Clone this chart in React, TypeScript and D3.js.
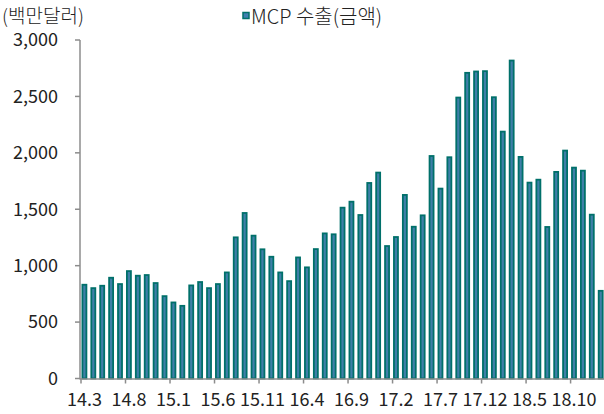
import React from "react";
import * as d3 from "d3";

const categories: string[] = (() => {
  const out: string[] = [];
  let y = 14, m = 3;
  for (let i = 0; i < 59; i++) {
    out.push(`${y}.${m}`);
    m++;
    if (m > 12) { m = 1; y++; }
  }
  return out;
})();

const exportValues: number[] = [
  831, 801, 822, 893, 837, 952, 911, 917, 846, 730,
  674, 644, 825, 855, 801, 837, 940, 1251, 1467, 1266,
  1145, 1079, 940, 863, 1073, 985, 1147, 1286, 1278, 1514,
  1567, 1449, 1733, 1825, 1174, 1254, 1627, 1345, 1446, 1972,
  1683, 1961, 2490, 2709, 2721, 2724, 2493, 2188, 2818, 1964,
  1736, 1762, 1343, 1831, 2020, 1869, 1842, 1452, 777,
];

const yTicks: number[] = [0, 500, 1000, 1500, 2000, 2500, 3000];
const xTickLabels: string[] = ["14.3", "14.8", "15.1", "15.6", "15.11", "16.4", "16.9", "17.2", "17.7", "17.12", "18.5", "18.10"];

const W = 604, H = 414;
const left = 80, top = 40, bottom = 378.5;
const catW = 8.9;
const right = left + catW * categories.length;
const font = "'Noto Sans CJK KR', 'Noto Sans', sans-serif";

export default function App() {
  const x = d3.scaleBand<string>().domain(categories).range([left, right]).paddingInner(0.55).paddingOuter(0.27);
  const y = d3.scaleLinear().domain([0, 3000]).range([bottom, top]);
  const step = x.step();
  const fmt = d3.format(",");
  const axisColor = "#8c8c8c";
  return (
    <svg width={W} height={H} style={{ position: "absolute", left: 0, top: 0, background: "#fff" }}>
      <text x={2} y={22.5} fontFamily={font} fontSize={19} fontWeight={300} fill="#222">(백만달러)</text>
      <rect x={243} y={12.5} width={6} height={6} fill="#3f7fb0" stroke="#00706a" strokeWidth={1.5} />
      <text x={251} y={23.5} fontFamily={font} fontSize={20} fontWeight={300} fill="#222">MCP 수출(금액)</text>
      {exportValues.map((v, i) => {
        const c = categories[i];
        const bx = x(c)!;
        const bw = x.bandwidth();
        return (
          <rect key={c} x={bx} y={y(v)} width={bw} height={bottom - y(v)}
            fill="#3f7fa8" stroke="#00706a" strokeWidth={1.8} />
        );
      })}
      <line x1={left} x2={left} y1={top} y2={bottom + 1} stroke={axisColor} strokeWidth={1.5} />
      <line x1={left} x2={W} y1={bottom + 0.5} y2={bottom + 0.5} stroke={axisColor} strokeWidth={1.5} />
      {yTicks.map((t) => (
        <g key={t}>
          <line x1={left - 5} x2={left} y1={y(t)} y2={y(t)} stroke={axisColor} strokeWidth={1.5} />
          <text x={58} y={y(t)} dy="0.35em" textAnchor="end" fontFamily={font} fontSize={18} fill="#222">{fmt(t)}</text>
        </g>
      ))}
      {xTickLabels.map((lab) => {
        const i = categories.indexOf(lab);
        const bx = left + i * step;
        return (
          <g key={lab}>
            <line x1={bx + 1} x2={bx + 1} y1={bottom} y2={bottom + 5} stroke={axisColor} strokeWidth={1.5} />
            <text x={bx + step / 2} y={406} textAnchor="middle" fontFamily={font} fontSize={18} fill="#222">{lab}</text>
          </g>
        );
      })}
    </svg>
  );
}
